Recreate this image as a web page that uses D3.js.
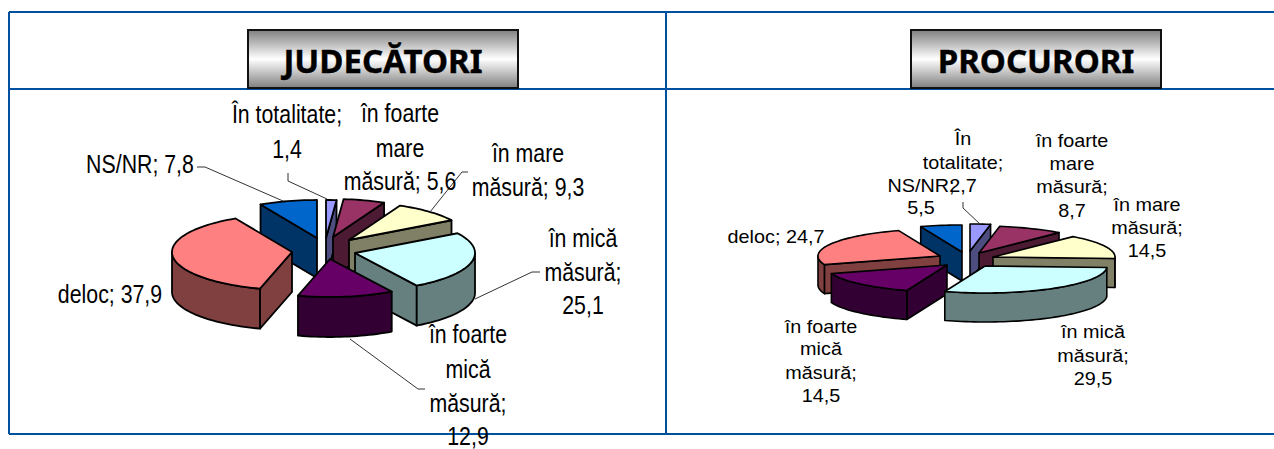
<!DOCTYPE html>
<html>
<head>
<meta charset="utf-8">
<script src="https://cdn.jsdelivr.net/npm/d3@7"></script>
<style>
  html, body { margin: 0; padding: 0; background: #fff; overflow: hidden; }
  svg { display: block; }
</style>
</head>
<body>
<svg id="chart" width="1274" height="449"></svg>
<script>
var categories = ["În totalitate", "în foarte mare măsură", "în mare măsură", "în mică măsură", "în foarte mică măsură", "deloc", "NS/NR"];
var judecatoriValues = [1.4, 5.6, 9.3, 25.1, 12.9, 37.9, 7.8];
var procuroriValues = [2.7, 8.7, 14.5, 29.5, 14.5, 24.7, 5.5];

var topColors = ["#9999ff", "#993366", "#ffffcc", "#ccffff", "#660066", "#ff8080", "#0066cc"];
var wallColors = ["#4d4d80", "#4d1a33", "#808066", "#668080", "#330033", "#804040", "#003366"];

// each slice was dragged out by hand in the original, so apex = where its point sits
var panels = [
  {
    title: "JUDECĂTORI", box: [248, 30, 270, 58],
    values: judecatoriValues,
    rx: 120, ry: 38, depth: 40, edge: 1.8,
    apex: [[326, 238], [333, 237], [349, 240], [355, 253], [330, 259], [292, 252], [317, 238]],
    order: [6, 0, 1, 2, 3, 5, 4],
    font: 26, sx: 0.82,
    labels: [
      {x: 287, y: [123, 158], breaks: [2, 1]},
      {x: 400, y: [122, 157, 190], breaks: [2, 1, 2]},
      {x: 528, y: [162, 196], breaks: [2, 2]},
      {x: 583, y: [247, 281, 314], breaks: [2, 1, 1]},
      {x: 468, y: [343, 378, 412, 445], breaks: [2, 1, 1, 1]},
      {x: 110, y: [303], breaks: [2]},
      {x: 140, y: [173], breaks: [2]}
    ],
    leaders: [
      [[197, 167], [205, 167], [283, 201]],
      [[288, 173], [288, 181], [327, 199]],
      [[468, 172], [462, 172], [430, 212]],
      [[540, 272], [532, 272], [475, 299]],
      [[425, 389], [418, 389], [350, 339]]
    ]
  },
  {
    title: "PROCURORI", box: [911, 30, 250, 58],
    values: procuroriValues,
    rx: 122, ry: 27, depth: 29, edge: 1.6,
    apex: [[970, 251], [979, 253], [993, 257], [985, 266], [947, 265], [940, 256], [962, 252]],
    order: [6, 0, 1, 2, 5, 4, 3],
    font: 18, sx: 1.1,
    labels: [
      {x: 963, y: [145, 169, 192], breaks: [1, 1, 1]},
      {x: 1072, y: [147, 170, 193, 217], breaks: [2, 1, 1, 1]},
      {x: 1147, y: [211, 234, 257], breaks: [2, 1, 1]},
      {x: 1093, y: [338, 362, 385], breaks: [2, 1, 1]},
      {x: 821, y: [333, 355, 379, 402], breaks: [2, 1, 1, 1]},
      {x: 776, y: [243], breaks: [2]},
      {x: 921, y: [192, 214], breaks: [1, 1]}
    ],
    leaders: [
      [[963, 202], [963, 208], [980, 224]]
    ]
  }
];

var svg = d3.select("#chart");

var defs = svg.append("defs");
var grad = defs.append("linearGradient")
    .attr("id", "titleFill")
    .attr("x1", 0).attr("y1", 0).attr("x2", 0).attr("y2", 1);
grad.append("stop").attr("offset", "0%").attr("stop-color", "#7f7f7f");
grad.append("stop").attr("offset", "50%").attr("stop-color", "#ffffff");
grad.append("stop").attr("offset", "100%").attr("stop-color", "#7f7f7f");

// table frame
var frame = [[9, 12, 1274, 12], [9, 89, 1274, 89], [9, 434, 1274, 434], [9, 12, 9, 434], [666, 12, 666, 434]];
svg.selectAll(".frame")
  .data(frame)
  .enter().append("line")
    .attr("class", "frame")
    .attr("x1", function(d) { return d[0]; })
    .attr("y1", function(d) { return d[1]; })
    .attr("x2", function(d) { return d[2]; })
    .attr("y2", function(d) { return d[3]; })
    .attr("stroke", "#0050a0")
    .attr("stroke-width", 2);

var pie = d3.pie().sort(null).value(function(d) { return d; });
var line = d3.line();
var STEP = Math.PI / 90;

function rimAngles(a0, a1) {
  var out = d3.range(a0, a1, STEP);
  out.push(a1);
  return out;
}

panels.forEach(function(p) {
  var g = svg.append("g");
  var arcs = pie(p.values);

  function rimPoint(i, a, drop) {
    return [p.apex[i][0] + p.rx * Math.sin(a), p.apex[i][1] - p.ry * Math.cos(a) + (drop || 0)];
  }

  function face(pts, fill) {
    g.append("path")
      .attr("d", line(pts) + "Z")
      .attr("fill", fill)
      .attr("stroke", "#000")
      .attr("stroke-width", p.edge)
      .attr("stroke-linejoin", "round");
  }

  function radialWall(i, a) {
    var c = p.apex[i], e = rimPoint(i, a);
    face([c, e, [e[0], e[1] + p.depth], [c[0], c[1] + p.depth]], wallColors[i]);
  }

  p.order.forEach(function(i) {
    var a0 = arcs[i].startAngle, a1 = arcs[i].endAngle;

    // only the walls that face the viewer
    if (Math.sin(a0) < 0) radialWall(i, a0);
    if (Math.sin(a1) > 0) radialWall(i, a1);

    var w0 = Math.max(a0, Math.PI / 2), w1 = Math.min(a1, 3 * Math.PI / 2);
    if (w1 > w0) {
      var topEdge = rimAngles(w0, w1).map(function(a) { return rimPoint(i, a); });
      var botEdge = rimAngles(w0, w1).reverse().map(function(a) { return rimPoint(i, a, p.depth); });
      face(topEdge.concat(botEdge), wallColors[i]);
    }

    var top = [p.apex[i]].concat(rimAngles(a0, a1).map(function(a) { return rimPoint(i, a); }));
    face(top, topColors[i]);
  });

  // leader lines
  g.selectAll(".leader")
    .data(p.leaders)
    .enter().append("path")
      .attr("class", "leader")
      .attr("d", function(d) { return line(d); })
      .attr("fill", "none")
      .attr("stroke", "#333")
      .attr("stroke-width", 1);

  // labels, text is stretched sideways like the pasted picture
  p.labels.forEach(function(lab, i) {
    var words = (categories[i] + "; " + String(p.values[i]).replace(".", ",")).split(" ");
    var pos = 0;
    lab.breaks.forEach(function(n, k) {
      g.append("text")
        .attr("transform", "translate(" + lab.x + "," + lab.y[k] + ") scale(" + p.sx + ",1)")
        .attr("text-anchor", "middle")
        .style("font", p.font + "px 'Liberation Sans', Arial, sans-serif")
        .attr("fill", "#000")
        .text(words.slice(pos, pos + n).join(" "));
      pos += n;
    });
  });

  // title box
  g.append("rect")
    .attr("x", p.box[0])
    .attr("y", p.box[1])
    .attr("width", p.box[2])
    .attr("height", p.box[3])
    .attr("fill", "url(#titleFill)")
    .attr("stroke", "#111")
    .attr("stroke-width", 2);

  g.append("text")
    .attr("x", p.box[0] + p.box[2] / 2)
    .attr("y", 73)
    .attr("text-anchor", "middle")
    .style("font", "bold 33px 'Noto Sans', sans-serif")
    .attr("fill", "#000")
    .attr("stroke", "#000")
    .attr("stroke-width", 0.4)
    .text(p.title);
});
</script>
</body>
</html>
